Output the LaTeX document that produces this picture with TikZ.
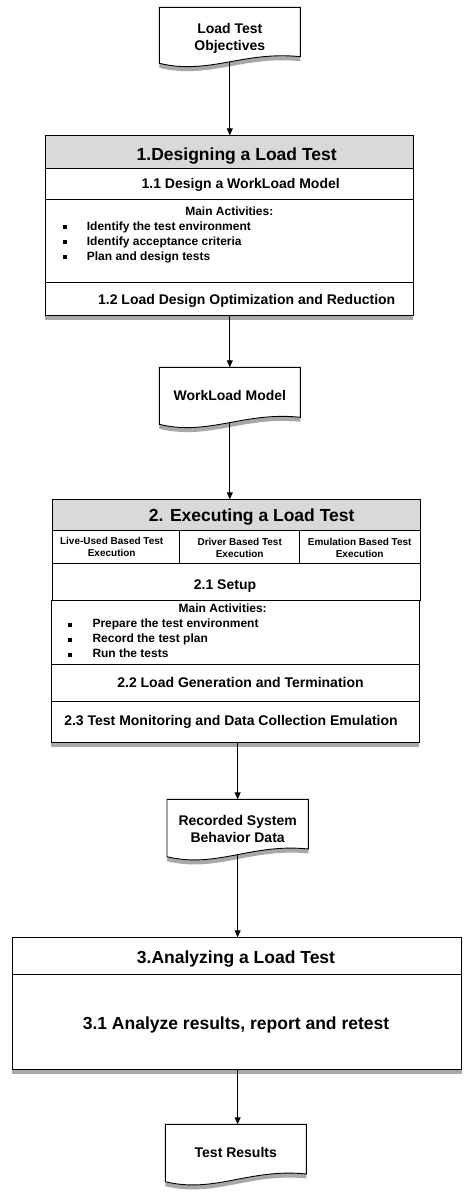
\documentclass[tikz,border=0pt]{standalone}
\usepackage{fontspec}
\setmainfont{Liberation Sans}
\usetikzlibrary{arrows.meta,shadows}
\definecolor{hdrgray}{HTML}{D9D9D9}
\newcommand\fsXL{\fontsize{17.5}{21}\selectfont\bfseries}
\newcommand\fsL{\fontsize{14}{17}\selectfont\bfseries}
\newcommand\fsM{\fontsize{12}{15}\selectfont\bfseries}
\newcommand\fsS{\fontsize{10}{12}\selectfont\bfseries}
\newcommand\bul{\rule[1pt]{4pt}{4pt}}
% document shape: L, T, R, right-bottom, left-bottom
\newcommand\docpath[5]{%
  \path[docshape] (#1,#2) -- (#3,#2) -- (#3,#4)
    .. controls ({#3-0.4*(#3-#1)},{#4-6}) and ({#1+0.35*(#3-#1)},{#5+12}) .. (#1,#5) -- cycle;}
\tikzset{
  x=1pt, y=-1pt,
  lw/.style={line width=0.9pt},
  shad/.style={drop shadow={shadow xshift=0pt, shadow yshift=-4.5pt, opacity=0.45, fill=black!75}},
  docshape/.style={lw, draw=black, fill=white, shad},
  docnode/.style={draw=none, anchor=north west, inner sep=0pt, outer sep=0pt, align=center, font=\fsL},
  frame/.style={lw, draw=black, fill=white, anchor=north west, inner sep=0pt, outer sep=0pt, shad},
  rowbox/.style={lw, draw=black, anchor=north west, inner sep=0pt, outer sep=0pt},
  hdr/.style={rowbox, fill=hdrgray},
  txt/.style={anchor=base, inner sep=0pt},
  arr/.style={lw, -{Triangle[length=7pt,width=6pt]}},
}
\begin{document}
\begin{tikzpicture}
\useasboundingbox (0,0) rectangle (472,1203);
\fill[white] (0,0) rectangle (472,1203);

% ---------- Load Test Objectives ----------
\docpath{159.3}{7.3}{300.3}{56.7}{63.3}
\node[docnode, minimum width=141pt, minimum height=54.7pt] (obj) at (159.3,7.3)
  {\rule{0pt}{18.5pt}Load Test\\Objectives};

% ---------- Box 1 ----------
\node[frame, minimum width=368pt, minimum height=180pt] (box1) at (45.3,135.3) {};
\node[hdr, minimum width=368pt, minimum height=33pt] (b1h) at (45.3,135.3) {};
\node[rowbox, minimum width=368pt, minimum height=31pt] (b1r1) at (45.3,168.3) {};
\node[rowbox, minimum width=368pt, minimum height=83pt] (b1act) at (45.3,199.3) {};
\node[rowbox, minimum width=368pt, minimum height=33pt] (b1r2) at (45.3,282.3) {};
\node[txt, font=\fsXL] (t1) at (236.7,160.3) {1.Designing a Load Test};
\node[txt, font=\fsL] (t11) at (240.7,188.3) {1.1 Design a WorkLoad Model};
\node[txt, font=\fsM] (m1) at (229.3,215) {Main Activities:};
\foreach \yy/\tx [count=\i] in {230/Identify the test environment,245/Identify acceptance criteria,260/Plan and design tests}{
  \node[txt, font=\fsM] (b1b\i) at (64.8,\yy) {\bul};
  \node[txt, anchor=base west, font=\fsM] (b1l\i) at (86.7,\yy) {\tx};
}
\node[txt, font=\fsL] (t12) at (246.7,304) {1.2 Load Design Optimization and Reduction};

% ---------- WorkLoad Model ----------
\docpath{159.3}{367.3}{300.3}{417.3}{424.3}
\node[docnode, minimum width=141pt, minimum height=55.7pt] (wl) at (159.3,367.3)
  {WorkLoad Model};

% ---------- Box 2 ----------
\node[frame, minimum width=368pt, minimum height=100.7pt] (box2a) at (52.3,499.3) {};
\node[frame, minimum width=368pt, minimum height=142.3pt] (box2b) at (51.3,600) {};
\node[hdr, minimum width=368pt, minimum height=31pt] (b2h) at (52.3,499.3) {};
\node[rowbox, minimum width=127pt, minimum height=33pt] (c1) at (52.3,530.3) {};
\node[rowbox, minimum width=120pt, minimum height=33pt] (c2) at (179.3,530.3) {};
\node[rowbox, minimum width=121pt, minimum height=33pt] (c3) at (299.3,530.3) {};
\node[rowbox, minimum width=368pt, minimum height=36.7pt] (b2s) at (52.3,563.3) {};
\node[rowbox, minimum width=368pt, minimum height=64.3pt] (b2act) at (51.3,600) {};
\node[rowbox, minimum width=368pt, minimum height=36.7pt] (b2r2) at (51.3,664.3) {};
\node[rowbox, minimum width=368pt, minimum height=41.3pt] (b2r3) at (51.3,701) {};
\node[txt, font=\fsXL] (t2) at (251.7,521.3) {2. Executing a Load Test};
\node[align=center, font=\fsS, inner sep=0pt] (c1t) at (111.7,547.2) {Live-Used Based Test\\Execution};
\node[align=center, font=\fsS, inner sep=0pt] (c2t) at (239.7,548.2) {Driver Based Test\\Execution};
\node[align=center, font=\fsS, inner sep=0pt] (c3t) at (359.7,548.2) {Emulation Based Test\\Execution};
\node[txt, font=\fsL] (t21) at (225,589) {2.1 Setup};
\node[txt, font=\fsM] (m2) at (222.7,612.6) {Main Activities:};
\foreach \yy/\tx [count=\i] in {627.6/Prepare the test environment,642.6/Record the test plan,657.6/Run the tests}{
  \node[txt, font=\fsM] (b2b\i) at (70,\yy) {\bul};
  \node[txt, anchor=base west, font=\fsM] (b2l\i) at (92.3,\yy) {\tx};
}
\node[txt, font=\fsL] (t22) at (240.5,687.7) {2.2 Load Generation and Termination};
\node[txt, font=\fsL] (t23) at (231,725) {2.3 Test Monitoring and Data Collection Emulation};

% ---------- Recorded System Behavior Data ----------
\docpath{167}{799.3}{308.3}{849}{856.7}
\node[docnode, minimum width=141.3pt, minimum height=55.8pt] (rec) at (167,799.3)
  {\rule{0pt}{14pt}Recorded System\\Behavior Data};

% ---------- Box 3 ----------
\node[frame, minimum width=449.4pt, minimum height=132pt] (box3) at (12.3,937.3) {};
\node[rowbox, minimum width=449.4pt, minimum height=37pt] (b3h) at (12.3,937.3) {};
\node[txt, font=\fsXL] (t3) at (236,963) {3.Analyzing a Load Test};
\node[txt, font=\fsXL] (t31) at (236,1029) {3.1 Analyze results, report and retest};

% ---------- Test Results ----------
\docpath{165.3}{1124.3}{306.3}{1174}{1181.7}
\node[docnode, minimum width=141pt, minimum height=55.8pt] (tr) at (165.3,1124.3)
  {Test Results};

% ---------- connectors ----------
\draw[arr] (obj.south) -- (obj.south |- box1.north);
\draw[arr] (box1.south -| wl.north) -- (wl.north);
\draw[arr] (wl.south) -- (wl.south |- box2a.north);
\draw[arr] (rec.north |- box2b.south) -- (rec.north);
\draw[arr] (rec.south) -- (rec.south |- box3.north);
\draw[arr] (box3.south -| rec.south) -- (rec.south |- tr.north);
\end{tikzpicture}
\end{document}
